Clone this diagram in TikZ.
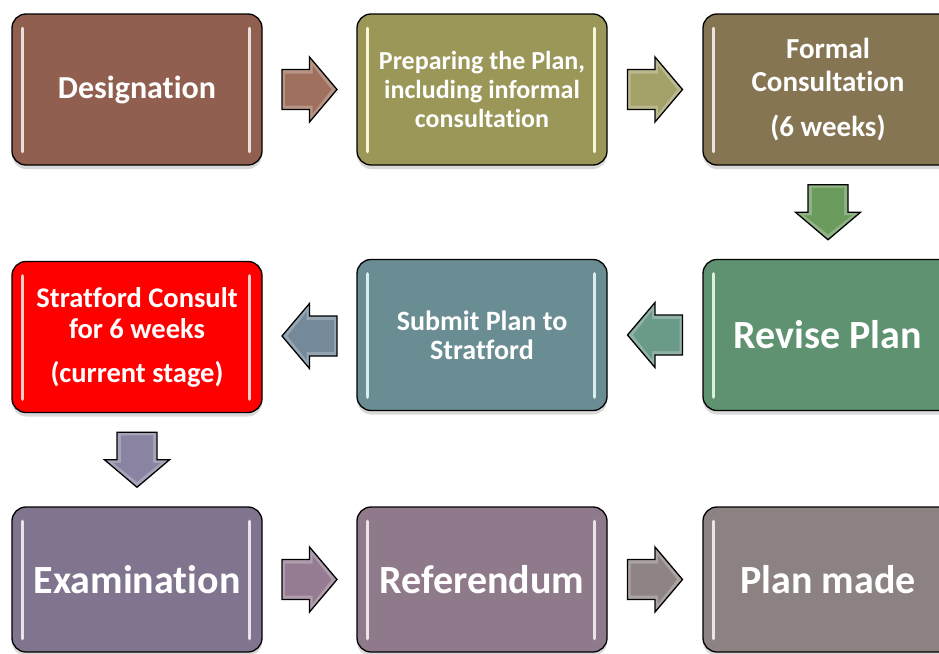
\documentclass[tikz,border=0pt]{standalone}
\usepackage{fontspec}
\setmainfont{Carlito}[Ligatures=NoCommon]
\usetikzlibrary{shadows,calc}

\definecolor{cDes}{HTML}{915F4F}
\definecolor{cPre}{HTML}{9A9759}
\definecolor{cFor}{HTML}{857553}
\definecolor{cRev}{HTML}{5F9270}
\definecolor{cSub}{HTML}{698D92}
\definecolor{cStr}{HTML}{FF0000}
\definecolor{cExa}{HTML}{81748F}
\definecolor{cRef}{HTML}{8F7A8B}
\definecolor{cMad}{HTML}{8D8282}
\definecolor{aOne}{HTML}{A0705F}
\definecolor{aTwo}{HTML}{A3A068}
\definecolor{aThr}{HTML}{6A9A5C}
\definecolor{aFou}{HTML}{6A9A88}
\definecolor{aFiv}{HTML}{74899A}
\definecolor{aSix}{HTML}{8A84A2}
\definecolor{aSev}{HTML}{957C93}
\definecolor{aEig}{HTML}{8E8483}

\tikzset{
  stage/.style={draw=black, line width=1.3pt, rounded corners=14pt,
    minimum width=250pt, minimum height=151pt, text=white,
    align=center, inner sep=0pt,
    drop shadow={opacity=0.3, shadow xshift=0pt, shadow yshift=-4pt}},
  hl/.style={line width=3.5pt, line cap=round},
  blockarrow/.pic={
    \fill[fill=#1!75!white]
      (-27.5,-20) -- (0,-20) -- (0,-32.5) -- (27.5,0) -- (0,32.5) -- (0,20) -- (-27.5,20) -- cycle;
    \fill[fill=#1]
      (-24.5,-16) -- (3,-16) -- (3,-24) -- (22,0) -- (3,24) -- (3,16) -- (-24.5,16) -- cycle;
    \draw[line width=1.3pt, line join=miter]
      (-27.5,-20) -- (0,-20) -- (0,-32.5) -- (27.5,0) -- (0,32.5) -- (0,20) -- (-27.5,20) -- cycle;
  }
}

\newcommand\boxgloss[2]{%
  \draw[hl,draw=#2!20!white] ([xshift=11pt,yshift=-15pt]#1.north west) -- ([xshift=11pt,yshift=14pt]#1.south west);
  \draw[hl,draw=#2!20!white] ([xshift=-13pt,yshift=-15pt]#1.north east) -- ([xshift=-13pt,yshift=14pt]#1.south east);}

\begin{document}
\begin{tikzpicture}[x=1pt,y=-1pt]
\useasboundingbox (0,0) rectangle (939,653);
\clip (0,0) rectangle (939,653);

% row 1
\node[stage, fill=cDes, font=\fontsize{32}{38}\selectfont\bfseries] (des) at (137,89.5) {Designation};
\node[stage, fill=cPre, font=\fontsize{26}{29}\selectfont\bfseries] (pre) at (482,89.5) {Preparing the Plan,\\including informal\\consultation};
\node[stage, fill=cFor, font=\fontsize{29}{33}\selectfont\bfseries] (for) at (828,89.5) {Formal\\Consultation\\[12pt](6 weeks)};
% row 2
\node[stage, fill=cStr, font=\fontsize{28.5}{31}\selectfont\bfseries] (str) at (137,337) {Stratford Consult\\for 6 weeks\\[13pt](current stage)};
\node[stage, fill=cSub, font=\fontsize{28}{29}\selectfont\bfseries] (sub) at (482,335) {Submit Plan to\\Stratford};
\node[stage, fill=cRev, font=\fontsize{40}{46}\selectfont\bfseries] (rev) at (828,335) {Revise Plan};
% row 3
\node[stage, fill=cExa, minimum height=145pt, font=\fontsize{40}{46}\selectfont\bfseries] (exa) at (137,579.5) {Examination};
\node[stage, fill=cRef, minimum height=145pt, font=\fontsize{40}{46}\selectfont\bfseries] (ref) at (482,579.5) {Referendum};
\node[stage, fill=cMad, minimum height=145pt, font=\fontsize{40}{46}\selectfont\bfseries] (mad) at (828,579.5) {Plan made};

\boxgloss{des}{cDes}
\boxgloss{pre}{yellow!60!cPre}
\boxgloss{for}{cFor}
\boxgloss{str}{cStr}
\boxgloss{sub}{cyan!40!cSub}
\boxgloss{rev}{green!30!cRev}
\boxgloss{exa}{cExa}
\boxgloss{ref}{cRef}
\boxgloss{mad}{cMad}

% arrow positions between the stages
\coordinate (m1) at ($(des.east)!0.5!(pre.west)$);
\coordinate (m2) at ($(pre.east)!0.5!(for.west)$);
\coordinate (m3) at ($(for.south)!0.5!(rev.north)$);
\coordinate (m4) at ($(rev.west)!0.5!(sub.east)$);
\coordinate (m5) at ($(sub.west)!0.5!(str.east)$);
\coordinate (m6) at ($(str.south)!0.5!(exa.north)$);
\coordinate (m7) at ($(exa.east)!0.5!(ref.west)$);
\coordinate (m8) at ($(ref.east)!0.5!(mad.west)$);

\pic at (m1) {blockarrow=aOne};
\pic at (m2) {blockarrow=aTwo};
\pic[rotate=270] at (m3) {blockarrow=aThr};
\pic[rotate=180] at (m4) {blockarrow=aFou};
\pic[rotate=180] at (m5) {blockarrow=aFiv};
\pic[rotate=270] at (m6) {blockarrow=aSix};
\pic at (m7) {blockarrow=aSev};
\pic at (m8) {blockarrow=aEig};
\end{tikzpicture}
\end{document}
